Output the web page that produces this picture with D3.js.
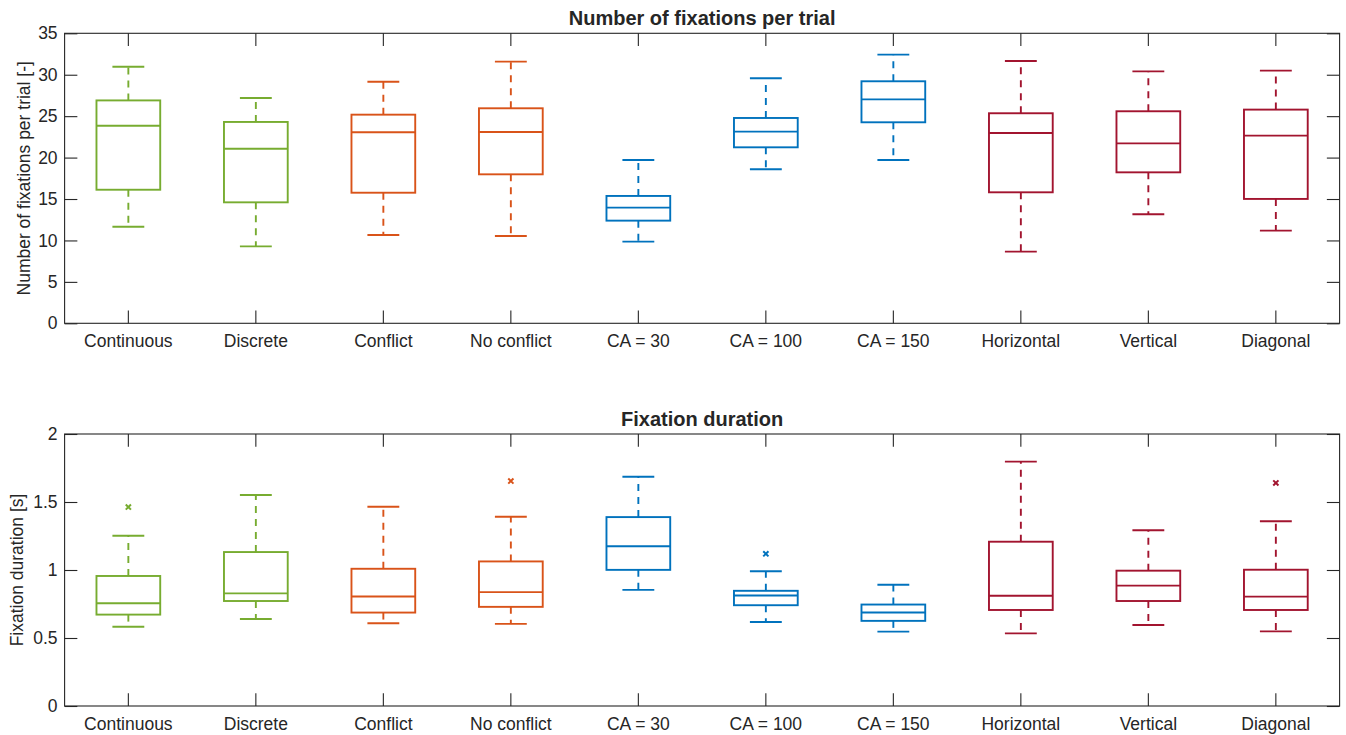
<!DOCTYPE html>
<html>
<head>
<meta charset="utf-8">
<script src="https://cdn.jsdelivr.net/npm/d3@7"></script>
<style>
  html, body { margin: 0; padding: 0; background: #ffffff; }
  svg { display: block; }
  text { font-family: "Liberation Sans", Arial, Helvetica, sans-serif; fill: #262626; }
</style>
</head>
<body>
<script>
// Conditions shown on both panels
const categories = ["Continuous", "Discrete", "Conflict", "No conflict",
  "CA = 30", "CA = 100", "CA = 150", "Horizontal", "Vertical", "Diagonal"];
// Which factor each condition belongs to (drives colour)
const factorOf = ["mode", "mode", "conflict", "conflict",
  "ca", "ca", "ca", "direction", "direction", "direction"];

// Number of fixations per trial: box-plot statistics
const fixLow    = [11.66, 9.29, 10.66, 10.54, 9.86, 18.59, 19.71, 8.65, 13.16, 11.18];
const fixQ1     = [16.12, 14.60, 15.76, 17.98, 12.39, 21.24, 24.26, 15.81, 18.22, 15.01];
const fixMedian = [23.85, 21.07, 23.05, 23.09, 13.96, 23.13, 27.03, 22.97, 21.72, 22.65];
const fixQ3     = [26.90, 24.30, 25.18, 25.95, 15.37, 24.78, 29.21, 25.35, 25.59, 25.79];
const fixHigh   = [30.97, 27.20, 29.16, 31.58, 19.71, 29.57, 32.43, 31.66, 30.41, 30.49];
const fixOutliers = [[], [], [], [], [], [], [], [], [], []];

// Fixation duration [s]: box-plot statistics
const durLow    = [0.583, 0.640, 0.609, 0.604, 0.854, 0.618, 0.547, 0.534, 0.596, 0.549];
const durQ1     = [0.672, 0.772, 0.687, 0.729, 1.001, 0.741, 0.626, 0.706, 0.772, 0.706];
const durMedian = [0.755, 0.828, 0.805, 0.837, 1.175, 0.812, 0.687, 0.811, 0.885, 0.804];
const durQ3     = [0.956, 1.132, 1.009, 1.063, 1.389, 0.847, 0.746, 1.208, 0.995, 1.002];
const durHigh   = [1.252, 1.551, 1.465, 1.391, 1.686, 0.991, 0.891, 1.797, 1.292, 1.358];
const durOutliers = [[1.463], [], [], [1.654], [], [1.119], [], [], [], [1.640]];

// Y-axis ticks
const fixTicks = [0, 5, 10, 15, 20, 25, 30, 35];
const durTicks = [0, 0.5, 1, 1.5, 2];
const durTickLabels = ["0", "0.5", "1", "1.5", "2"];

const W = 1346, H = 735;
const svg = d3.select("body").append("svg").attr("width", W).attr("height", H);

const colour = d3.scaleOrdinal()
  .domain(["mode", "conflict", "ca", "direction"])
  .range(["#77AC30", "#D95319", "#0072BD", "#A2142F"]);

const x = d3.scaleBand().domain(categories).range([64.6, 1339.6]).paddingInner(0).paddingOuter(0);
const bw = x.bandwidth();
const cx = c => x(c) + bw / 2;
const tickLen = 12.75;
const axisColour = "#262626";

function panel(opts) {
  const { top, bottom, domain, ticks, tickFormat, title, ylabel, stats, ylabelX } = opts;
  const y = d3.scaleLinear().domain(domain).range([bottom, top]);
  const g = svg.append("g");

  // Boxes
  categories.forEach((c, i) => {
    const col = colour(factorOf[i]);
    const xc = cx(c);
    const boxW = bw * 0.5, capW = bw * 0.25;
    const b = g.append("g").attr("stroke", col).attr("fill", "none").attr("stroke-width", 1.9);
    // whiskers (dashed) from box edges to caps
    b.append("line").attr("x1", xc).attr("x2", xc)
      .attr("y1", y(stats.q3[i])).attr("y2", y(stats.high[i]))
      .attr("stroke-dasharray", "7,6");
    b.append("line").attr("x1", xc).attr("x2", xc)
      .attr("y1", y(stats.q1[i])).attr("y2", y(stats.low[i]))
      .attr("stroke-dasharray", "7,6");
    // caps
    b.append("line").attr("x1", xc - capW / 2).attr("x2", xc + capW / 2)
      .attr("y1", y(stats.high[i])).attr("y2", y(stats.high[i]));
    b.append("line").attr("x1", xc - capW / 2).attr("x2", xc + capW / 2)
      .attr("y1", y(stats.low[i])).attr("y2", y(stats.low[i]));
    // box
    b.append("rect").attr("x", xc - boxW / 2).attr("width", boxW)
      .attr("y", y(stats.q3[i])).attr("height", y(stats.q1[i]) - y(stats.q3[i]))
      .attr("fill", "#ffffff");
    // median
    b.append("line").attr("x1", xc - boxW / 2).attr("x2", xc + boxW / 2)
      .attr("y1", y(stats.median[i])).attr("y2", y(stats.median[i]));
    // outliers
    stats.outliers[i].forEach(v => {
      const oy = y(v), s = 2.6;
      b.append("path")
        .attr("d", `M${xc - s},${oy - s}L${xc + s},${oy + s}M${xc - s},${oy + s}L${xc + s},${oy - s}`)
        .attr("stroke-width", 2);
    });
  });

  // Axes with inward ticks on all four sides
  const left = d3.axisLeft(y).tickValues(ticks).tickFormat(tickFormat)
    .tickSizeInner(-tickLen).tickSizeOuter(0).tickPadding(7);
  const right = d3.axisRight(y).tickValues(ticks).tickFormat("")
    .tickSizeInner(-tickLen).tickSizeOuter(0);
  const bottomAx = d3.axisBottom(x).tickSizeInner(-tickLen).tickSizeOuter(0).tickPadding(11.6);
  const topAx = d3.axisTop(x).tickFormat("").tickSizeInner(-tickLen).tickSizeOuter(0);

  const styleAxis = sel => {
    sel.select(".domain").remove();
    sel.selectAll("line").attr("stroke", axisColour).attr("stroke-width", 1.1);
    sel.selectAll("text").attr("font-size", "17.5px")
      .attr("font-family", "'Liberation Sans', Arial, Helvetica, sans-serif").attr("fill", "#262626");
  };
  const [x0, x1] = x.range();
  svg.append("g").attr("transform", `translate(${x0},0)`).call(left).call(styleAxis);
  svg.append("g").attr("transform", `translate(${x1},0)`).call(right).call(styleAxis);
  svg.append("g").attr("transform", `translate(0,${bottom})`).call(bottomAx).call(styleAxis);
  svg.append("g").attr("transform", `translate(0,${top})`).call(topAx).call(styleAxis);

  // Frame
  svg.append("rect").attr("x", x0).attr("y", top).attr("width", x1 - x0).attr("height", bottom - top)
    .attr("fill", "none").attr("stroke", axisColour).attr("stroke-width", 1.1);

  // Title
  svg.append("text").attr("x", (x0 + x1) / 2).attr("y", top - 8.5)
    .attr("text-anchor", "middle").attr("font-weight", "bold").attr("font-size", "20px")
    .text(title);

  // Y label
  svg.append("text")
    .attr("transform", `translate(${ylabelX},${(top + bottom) / 2}) rotate(-90)`)
    .attr("text-anchor", "middle").attr("font-size", "17.5px")
    .text(ylabel);
}

panel({
  top: 33.3, bottom: 323.3, domain: [0, 35], ticks: fixTicks,
  tickFormat: d3.format("d"),
  title: "Number of fixations per trial",
  ylabel: "Number of fixations per trial [-]",
  ylabelX: 30,
  stats: { low: fixLow, q1: fixQ1, median: fixMedian, q3: fixQ3, high: fixHigh, outliers: fixOutliers }
});

panel({
  top: 434, bottom: 706, domain: [0, 2], ticks: durTicks,
  tickFormat: (d, i) => durTickLabels[i],
  title: "Fixation duration",
  ylabel: "Fixation duration [s]",
  ylabelX: 23,
  stats: { low: durLow, q1: durQ1, median: durMedian, q3: durQ3, high: durHigh, outliers: durOutliers }
});
</script>
</body>
</html>
